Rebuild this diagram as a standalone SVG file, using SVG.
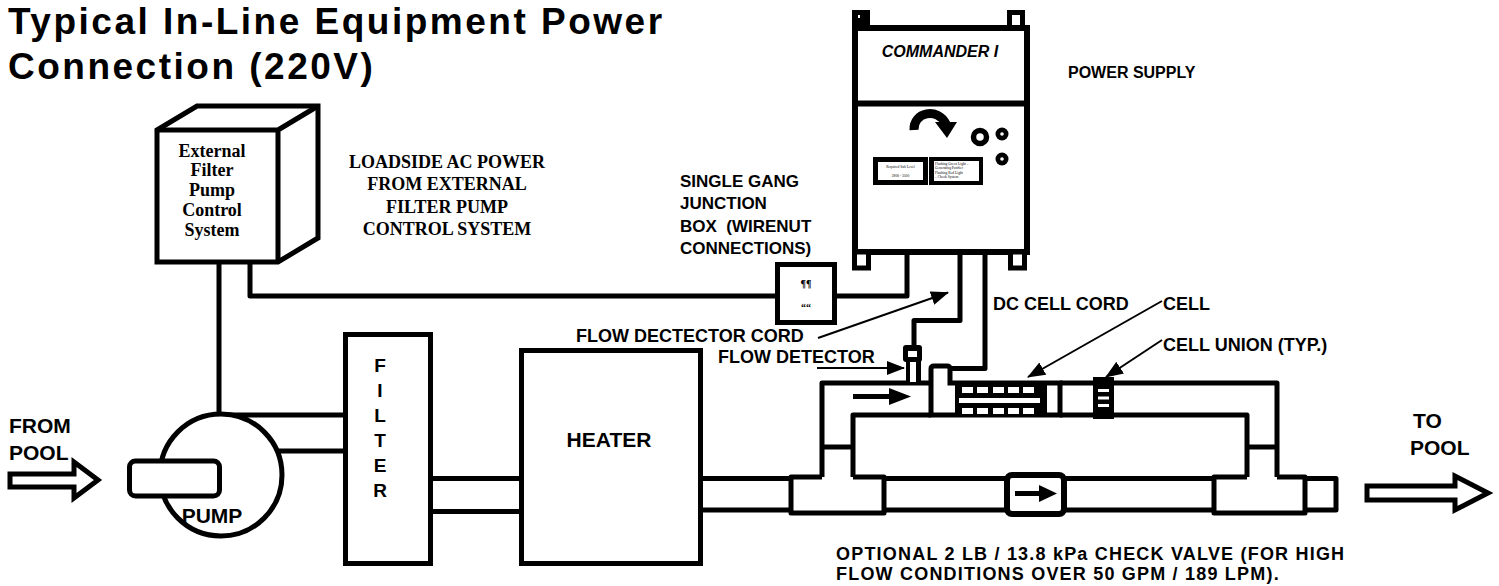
<svg xmlns="http://www.w3.org/2000/svg" width="1499" height="586" viewBox="0 0 1499 586">
<style>
.p{fill:none;stroke:#000;stroke-width:5;stroke-linejoin:round}
.w{fill:#fff;stroke:#000;stroke-width:5}
.ld{fill:none;stroke:#000;stroke-width:2}
.s{font-family:"Liberation Sans",Arial,sans-serif;font-weight:bold;fill:#000}
.r{font-family:"Liberation Serif","Times New Roman",serif;font-weight:bold;fill:#000}
.l18{font-size:18px}
.l21{font-size:21px}
.tiny{font-family:"Liberation Serif","Times New Roman",serif;font-size:3.6px;fill:#000}
</style>
<defs>
<marker id="ah" markerUnits="userSpaceOnUse" markerWidth="18" markerHeight="14" refX="17" refY="7" orient="auto">
<path d="M0,0 L18,7 L0,14 Z" fill="#000"/>
</marker>
</defs>
<rect width="1499" height="586" fill="#fff"/>

<g id="title" class="s" style="font-size:37px;letter-spacing:2.5px">
<text x="8" y="34">Typical In-Line Equipment Power</text>
<text x="8" y="79">Connection (220V)</text>
</g>

<g id="connectors">
<path class="p" d="M250,262 V296 H777.5"/>
<path class="p" d="M219,262 V414"/>
<path class="p" d="M219,415 H343 M277,451 H343"/>
<path class="p" d="M433,478.5 H519 M433,511.5 H519"/>
<path class="p" d="M703,478.5 H791 M703,510 H791"/>
<path class="p" d="M884,478.5 H1214 M884,510 H1214"/>
<path class="p" d="M822,477 V383 H931 M853,477 V415 H931"/>
<path class="p" d="M1060,383 H1277 V477 M1060,415 H1247 V477"/>
<path class="p" d="M822,447 H853 M1247,447 H1277"/>
<path class="p" d="M822,477 H791 V513 H884 V477 H853"/>
<path class="p" d="M1247,477 H1214 V513 H1305 V477 H1277"/>
<path class="p" d="M1305,478.5 H1336 V510 H1305"/>
<path class="p" d="M907,255 V296 H834.5"/>
<path class="p" d="M960,255 V320.5 H914 V345"/>
<path class="p" d="M985,255 V368.5 H950"/>
<path class="ld" d="M818,338 L948,292.5" marker-end="url(#ah)"/>
<path class="ld" d="M817,368 L904,368" marker-end="url(#ah)"/>
<path class="ld" d="M1162,301 L1028,377" marker-end="url(#ah)"/>
<path class="ld" d="M1162,340 L1106,377" marker-end="url(#ah)"/>
</g>

<g id="external-control">
<path class="w" d="M157,262 V130 L197,106 H318 V238 L278,262 Z"/>
<path class="p" d="M157,130 H278 L318,106 M278,130 V262"/>
<g class="r" style="font-size:18px" text-anchor="middle">
<text x="212" y="157">External</text>
<text x="212" y="176">Filter</text>
<text x="212" y="196">Pump</text>
<text x="212" y="216">Control</text>
<text x="212" y="236">System</text>
</g>
</g>

<g id="loadside-label" class="r" style="font-size:18px" text-anchor="middle">
<text x="447" y="168">LOADSIDE AC POWER</text>
<text x="447" y="190">FROM EXTERNAL</text>
<text x="447" y="213">FILTER PUMP</text>
<text x="447" y="235">CONTROL SYSTEM</text>
</g>

<g id="junction-label" class="s" style="font-size:17px">
<text x="680" y="187">SINGLE GANG</text>
<text x="680" y="209">JUNCTION</text>
<text x="680" y="232" xml:space="preserve">BOX  (WIRENUT</text>
<text x="680" y="254">CONNECTIONS)</text>
</g>

<g id="junction-box">
<rect class="w" x="777.5" y="264.5" width="57" height="58"/>
<text class="r" x="806" y="287" font-size="10" text-anchor="middle">¶¶</text>
<text class="r" x="806" y="311" font-size="10" text-anchor="middle">““</text>
</g>

<g id="commander">
<rect x="855" y="28" width="172" height="224" fill="#fff" stroke="#000" stroke-width="6"/>
<path d="M855,103.5 H1027" stroke="#000" stroke-width="6"/>
<rect x="852" y="10" width="18" height="18" fill="#000"/>
<rect x="858" y="15" width="2" height="3" fill="#fff"/>
<rect class="w" x="1009.5" y="12.5" width="13" height="15"/>
<rect class="w" x="854.5" y="252" width="14" height="16"/>
<rect class="w" x="1010.5" y="252" width="14" height="16"/>
<text class="s" x="940" y="57" font-size="16" font-style="italic" text-anchor="middle">COMMANDER I</text>
<path d="M914,130 C913,112 938,107 946,124" fill="none" stroke="#000" stroke-width="9"/>
<polygon points="935,122 957,122 947,138" fill="#000"/>
<circle cx="980" cy="137" r="6.5" fill="none" stroke="#000" stroke-width="5.5"/>
<circle cx="1002" cy="134" r="6.5" fill="#000"/>
<circle cx="1002" cy="134" r="1.8" fill="#fff"/>
<circle cx="1002" cy="159" r="6.5" fill="#000"/>
<circle cx="1002" cy="159" r="1.8" fill="#fff"/>
<rect x="873" y="157" width="55" height="28" fill="#000"/>
<rect x="878" y="162" width="45" height="18" fill="#fff"/>
<rect x="929" y="157" width="54" height="28" fill="#000"/>
<rect x="934" y="161" width="45" height="20" fill="#fff"/>
<text class="tiny" x="900.5" y="168" text-anchor="middle">Required Salt Level</text>
<text class="tiny" x="900.5" y="177" text-anchor="middle">2800 - 3500</text>
<text class="tiny" x="935" y="164.5">Flashing Green Light –</text>
<text class="tiny" x="935" y="168.5">Generating Purifier</text>
<text class="tiny" x="935" y="173.5">Flashing Red Light</text>
<text class="tiny" x="935" y="178">– Check System</text>
</g>

<g id="power-supply-label">
<text class="s" x="1068" y="78" font-size="16">POWER SUPPLY</text>
</g>

<g id="pump">
<circle class="w" cx="221" cy="475" r="61"/>
<rect class="w" x="129.5" y="461" width="90" height="35" rx="6"/>
<text class="s l21" x="212" y="523" text-anchor="middle">PUMP</text>
</g>

<g id="filter">
<rect class="w" x="345.5" y="334.5" width="85" height="229"/>
<g class="s" style="font-size:19px" text-anchor="middle">
<text x="380" y="372">F</text>
<text x="380" y="397">I</text>
<text x="380" y="422">L</text>
<text x="380" y="447">T</text>
<text x="380" y="472">E</text>
<text x="380" y="497">R</text>
</g>
</g>

<g id="heater">
<rect class="w" x="521.5" y="350.5" width="179" height="213"/>
<text class="s l21" x="609" y="447" text-anchor="middle">HEATER</text>
</g>

<g id="flow-detector">
<rect x="903" y="345" width="19" height="17" rx="3" fill="#000"/>
<rect x="908" y="351" width="9" height="6" fill="#fff"/>
<rect x="906" y="360" width="15" height="22" fill="#000"/>
<rect x="910" y="362" width="6" height="20" fill="#fff"/>
<rect x="853" y="394" width="40" height="5" fill="#000"/>
<polygon points="889,388 911,396.5 889,405" fill="#000"/>
</g>

<g id="cell">
<path class="w" d="M931,415 V369 Q931,366 934,366 H947 Q950,366 950,369 V383 H1060 V415 Z"/>
<rect x="955" y="384" width="92" height="32" fill="#000"/>
<g fill="#fff">
<rect x="962" y="387" width="11" height="6"/>
<rect x="977" y="387" width="11" height="6"/>
<rect x="993" y="387" width="11" height="6"/>
<rect x="1008" y="387" width="11" height="6"/>
<rect x="1023" y="387" width="11" height="6"/>
<rect x="959" y="398" width="81" height="5"/>
<rect x="962" y="408" width="11" height="6"/>
<rect x="977" y="408" width="11" height="6"/>
<rect x="993" y="408" width="11" height="6"/>
<rect x="1008" y="408" width="11" height="6"/>
<rect x="1023" y="408" width="11" height="6"/>
</g>
</g>

<g id="cell-union">
<rect x="1093" y="377" width="21" height="42" fill="#000"/>
<g fill="#fff">
<rect x="1098" y="389" width="11" height="3"/>
<rect x="1098" y="396.5" width="11" height="3"/>
<rect x="1098" y="404" width="11" height="3"/>
</g>
</g>

<g id="check-valve">
<rect x="1007" y="475" width="57" height="39" rx="5" fill="#fff" stroke="#000" stroke-width="6"/>
<rect x="1015" y="491" width="26" height="5" fill="#000"/>
<polygon points="1039,485 1057,493.5 1039,502" fill="#000"/>
</g>

<g id="from-pool">
<polygon points="10,474 74,474 74,462 98,480 74,498 74,487 10,487" fill="#fff" stroke="#000" stroke-width="5"/>
<text class="s l21" x="9" y="433">FROM</text>
<text class="s l21" x="9" y="460">POOL</text>
</g>

<g id="to-pool">
<polygon points="1367,486 1455,486 1455,476 1488,493 1455,510 1455,500 1367,500" fill="#fff" stroke="#000" stroke-width="5"/>
<text class="s l21" x="1413" y="428">TO</text>
<text class="s l21" x="1410" y="455">POOL</text>
</g>

<g id="labels" class="s l18">
<text x="576" y="342">FLOW DECTECTOR CORD</text>
<text x="718" y="363">FLOW DETECTOR</text>
<text x="993" y="310">DC CELL CORD</text>
<text x="1163" y="310">CELL</text>
<text x="1163" y="351">CELL UNION (TYP.)</text>
<text x="836" y="560" letter-spacing="1.2">OPTIONAL 2 LB / 13.8 kPa CHECK VALVE (FOR HIGH</text>
<text x="836" y="580" letter-spacing="1.2">FLOW CONDITIONS OVER 50 GPM / 189 LPM).</text>
</g>
</svg>
